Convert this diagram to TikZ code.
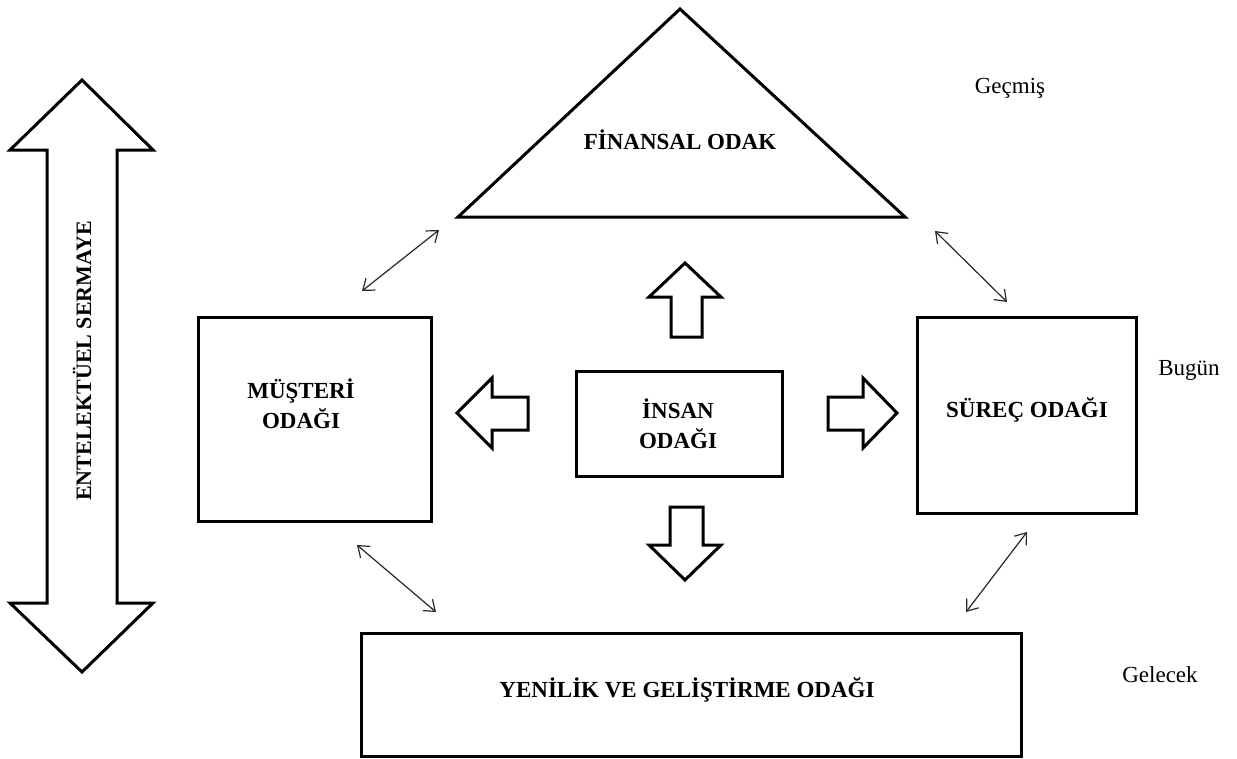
\documentclass[tikz,border=0pt]{standalone}
\usepackage{fontspec}
\setmainfont{Liberation Serif}
\usetikzlibrary{arrows.meta}
\begin{document}
\begin{tikzpicture}[x=1pt,y=-1pt,
  shapeline/.style={draw=black,line width=3pt,fill=white},
  boxnode/.style={draw=black,line width=3pt,inner sep=0pt,anchor=north west},
  lbl/.style={font=\fontsize{23}{27}\selectfont\bfseries,align=center,inner sep=0pt},
  timelbl/.style={font=\fontsize{23}{27}\selectfont,inner sep=0pt},
  link/.style={{Straight Barb[length=10pt,width=15pt]}-{Straight Barb[length=10pt,width=15pt]},line width=1.2pt,draw=black!85}
]
\useasboundingbox (0,0) rectangle (1237,758);

% vertical double arrow
\draw[shapeline] (82,80) -- (153,150) -- (117,150) -- (117,603) -- (153,603) -- (82,672)
  -- (10,603) -- (47,603) -- (47,150) -- (10,150) -- cycle;
\node[lbl,rotate=90,font=\fontsize{22}{26}\selectfont\bfseries] (ent) at (82,361) {ENTELEKTÜEL SERMAYE};

% triangle
\draw[shapeline] (458,217) -- (680,9) -- (905,217) -- cycle;
\node[lbl] (fin) at (680,140) {FİNANSAL ODAK};

% boxes
\node[boxnode,minimum width=233pt,minimum height=204pt] (mus) at (197,316) {};
\node[lbl] at (301,404) {MÜŞTERİ\\[3pt]ODAĞI};
\node[boxnode,minimum width=206pt,minimum height=105pt] (ins) at (575,370) {};
\node[lbl] at (678,424) {İNSAN\\[3pt]ODAĞI};
\node[boxnode,minimum width=219pt,minimum height=196pt] (sur) at (916,316) {};
\node[lbl] at (1027,410) {SÜREÇ ODAĞI};
\node[boxnode,minimum width=660pt,minimum height=123pt] (yen) at (360,632) {};
\node[lbl] at (687,690) {YENİLİK VE GELİŞTİRME ODAĞI};

% time labels
\node[timelbl] (gec) at (1010,88) {Geçmiş};
\node[timelbl] (bug) at (1189,370) {Bugün};
\node[timelbl] (gel) at (1160,675) {Gelecek};

% block arrows
\draw[shapeline] (685,263) -- (721,297) -- (702,297) -- (702,337) -- (671,337) -- (671,297) -- (649,297) -- cycle;
\draw[shapeline] (457,413) -- (492,378) -- (492,397) -- (528,397) -- (528,430) -- (492,430) -- (492,448) -- cycle;
\draw[shapeline] (897,413) -- (863,378) -- (863,397) -- (828,397) -- (828,430) -- (863,430) -- (863,448) -- cycle;
\draw[shapeline] (685,580) -- (721,545) -- (703,545) -- (703,507) -- (670,507) -- (670,545) -- (649,545) -- cycle;

% thin double arrows
\coordinate (a1) at (362,291); \coordinate (b1) at (439,230);
\coordinate (a2) at (935,231); \coordinate (b2) at (1007,302);
\coordinate (a3) at (357,545); \coordinate (b3) at (436,612);
\coordinate (a4) at (966,612); \coordinate (b4) at (1027,532);
\draw[link] (a1) -- (b1);
\draw[link] (a2) -- (b2);
\draw[link] (a3) -- (b3);
\draw[link] (a4) -- (b4);
\end{tikzpicture}
\end{document}
